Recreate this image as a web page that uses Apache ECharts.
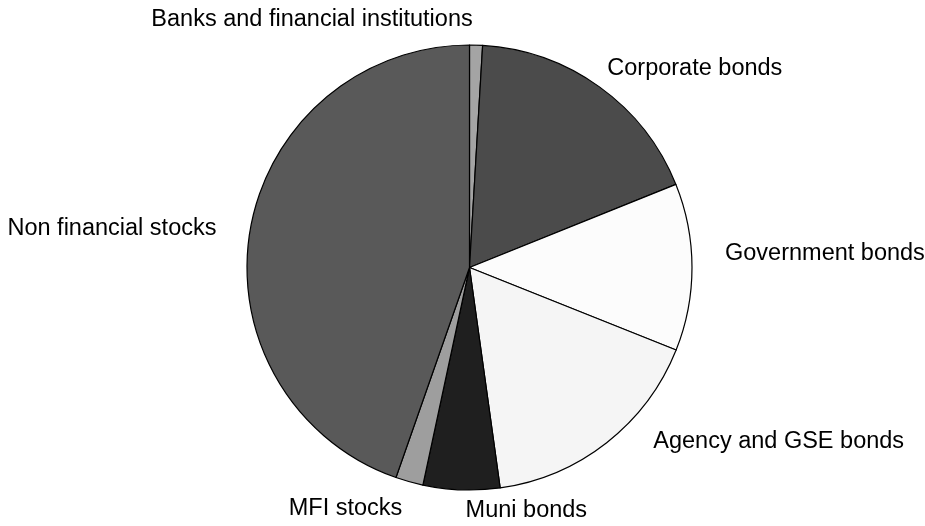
<!DOCTYPE html>
<html>
<head>
<meta charset="utf-8">
<script src="https://cdn.jsdelivr.net/npm/echarts@6/dist/echarts.min.js"></script>
<style>
  html, body { margin: 0; padding: 0; background: #fff; }
  #chart { width: 925px; height: 526px; }
</style>
</head>
<body>
<div id="chart"></div>
<script>
// slices, clockwise from 12 o'clock
const categories = ['Banks and financial institutions', 'Corporate bonds', 'Government bonds',
  'Agency and GSE bonds', 'Muni bonds', 'MFI stocks', 'Non financial stocks'];
const shares = [0.94, 17.97, 12.14, 16.75, 5.56, 2.0, 44.64];

// grey fills per slice
const sliceColors = ['#a4a4a4', '#4b4b4b', '#fcfcfc', '#f5f5f5', '#1f1f1f', '#9e9e9e', '#595959'];
// label nudges from the default outside spot (dx, dy, align)
const labelNudge = [
  [-4, -4, 'right'], [-5, -1, null], [11, -14, null], [33, -18, null],
  [5, -1, 'left'], [-1, 6, null], [-12, 2, null]
];

let myChart = echarts.init(document.getElementById('chart'));
let option = {
  animation: false,
  color: sliceColors,
  series: [{
    type: 'pie',
    center: [469.5, 267.5],
    radius: 222.5,
    startAngle: 90,
    clockwise: true,
    avoidLabelOverlap: false,
    itemStyle: { borderColor: '#000', borderWidth: 1.2 },
    label: {
      show: true,
      position: 'outside',
      distanceToLabelLine: 0,
      color: '#000',
      fontSize: 23.5,
      fontFamily: 'Liberation Sans, Arial, Helvetica, sans-serif'
    },
    labelLine: { show: false, length: 22, length2: 0 },
    labelLayout: function (params) {
      let n = labelNudge[params.dataIndex];
      let out = { dx: n[0], dy: n[1] };
      if (n[2]) out.align = n[2];
      return out;
    },
    emphasis: { disabled: true },
    data: categories.map(function (name, i) {
      return { name: name, value: shares[i] };
    })
  }]
};
myChart.setOption(option);
window.addEventListener('resize', function () { myChart.resize(); });
</script>
</body>
</html>
